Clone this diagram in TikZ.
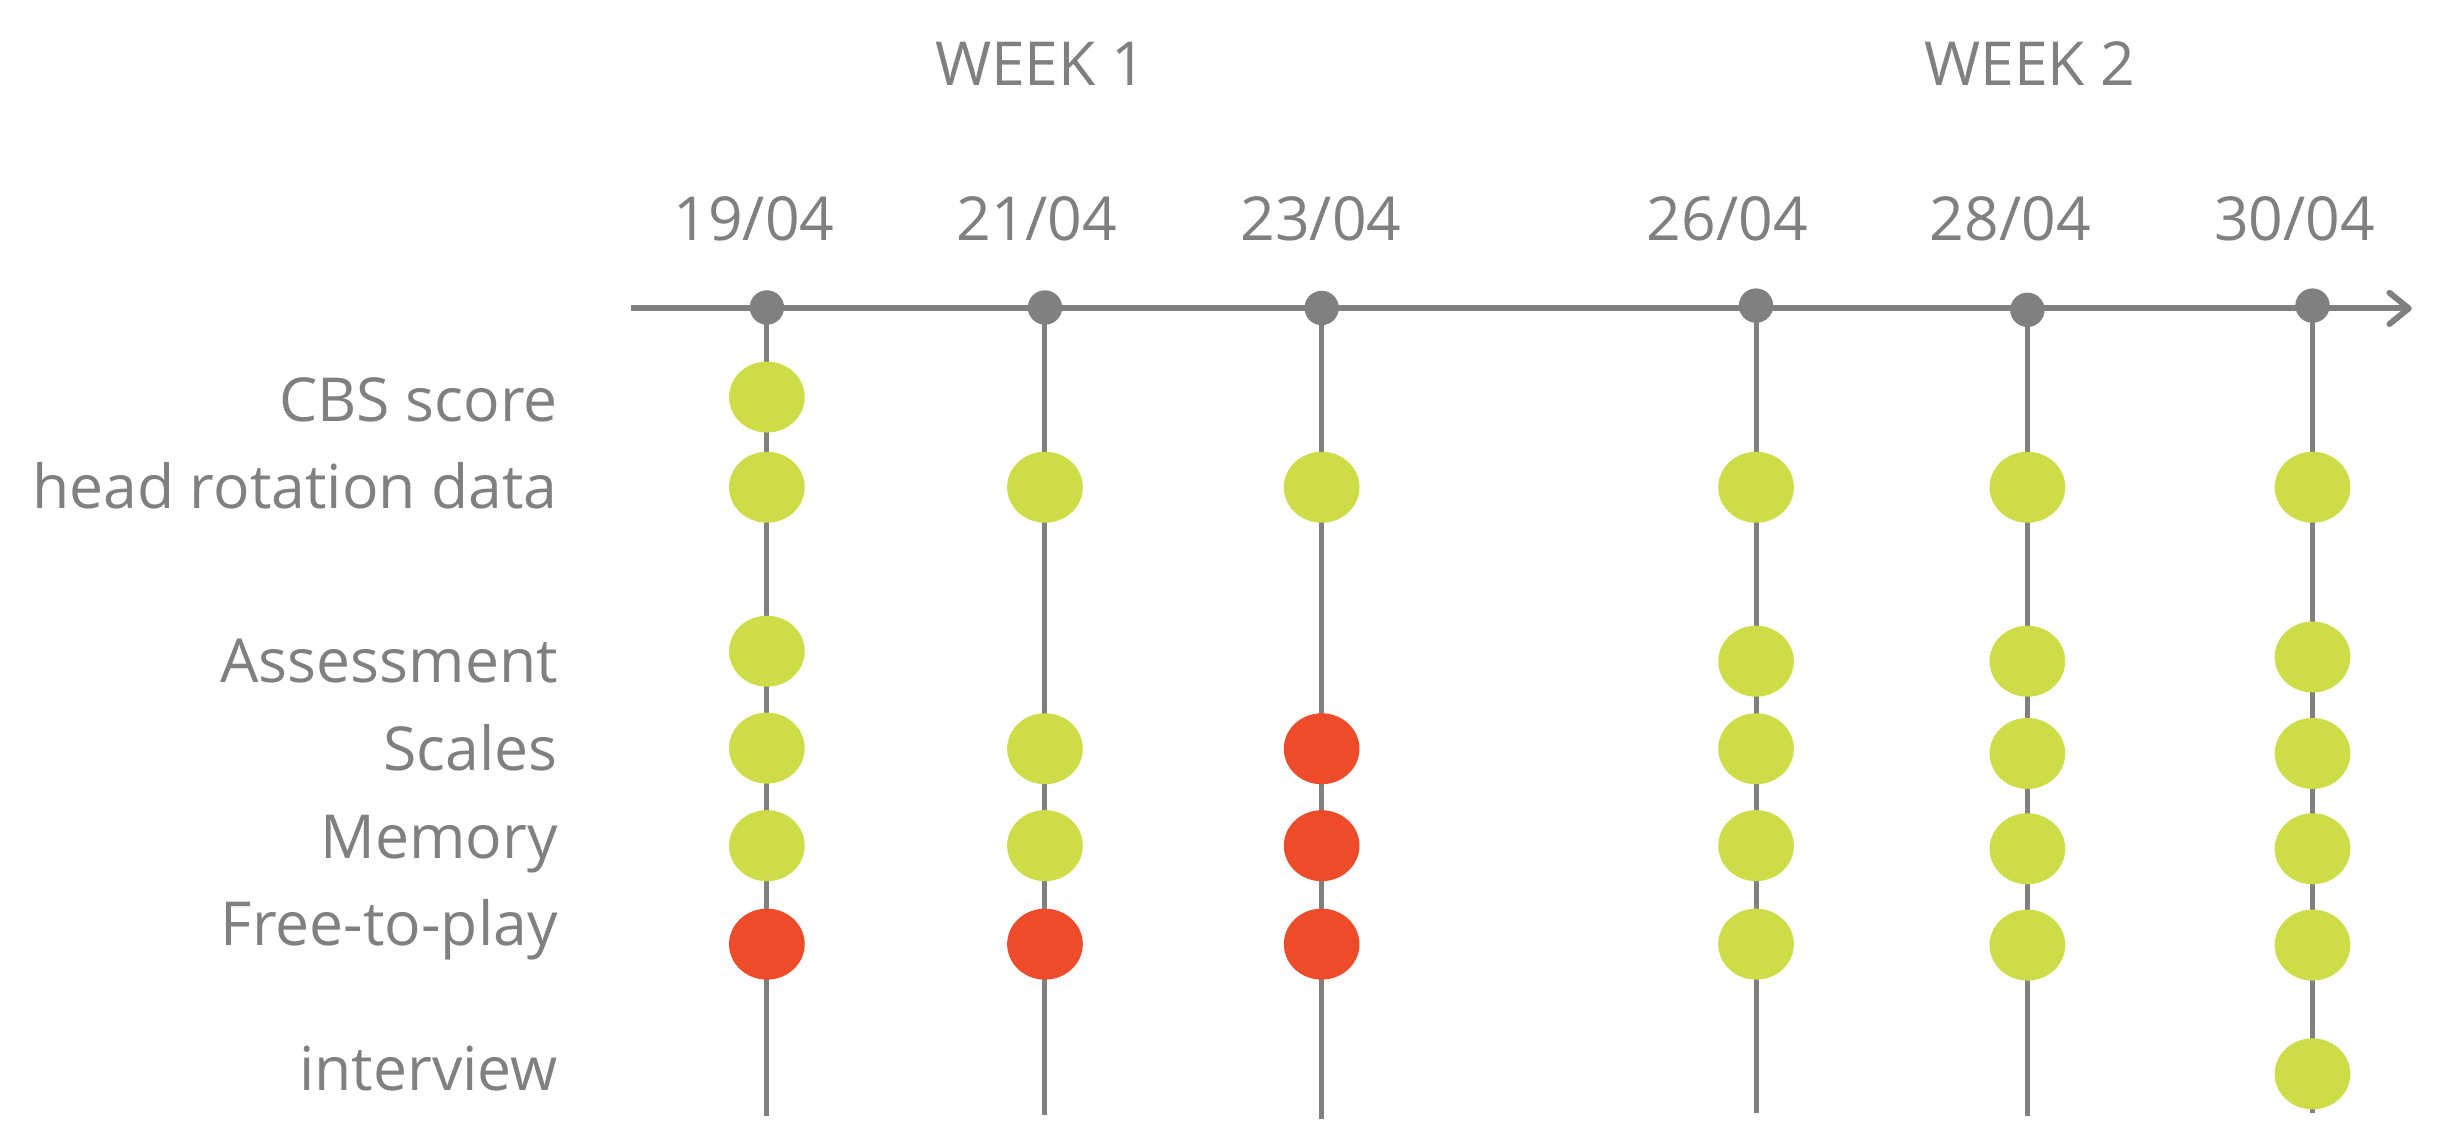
\documentclass[tikz,border=0pt]{standalone}
\usepackage{fontspec}
\setmainfont{Open Sans}
\usetikzlibrary{shapes.geometric}
\definecolor{tlgray}{HTML}{808080}
\definecolor{okgreen}{HTML}{CDDC47}
\definecolor{badred}{HTML}{EE4B2B}
\pgfdeclarelayer{bg}
\pgfsetlayers{bg,main}
\begin{document}
\begin{tikzpicture}[x=1pt,y=-1pt,
  txt/.style={text=tlgray, font=\fontsize{38.8}{47}\selectfont, inner sep=0pt},
  lbl/.style={txt, anchor=base east},
  datelbl/.style={txt, anchor=base},
  axisdot/.style={circle, fill=tlgray, minimum size=22pt, inner sep=0pt},
  ok/.style={ellipse, fill=okgreen, minimum width=48.4pt, minimum height=45.4pt, inner sep=0pt},
  bad/.style={ok, fill=badred},
  axisline/.style={draw=tlgray, line width=3.8pt},
  vline/.style={draw=tlgray, line width=3.2pt},
]
\useasboundingbox (0,0) rectangle (1568,729);

% week headings
\node[datelbl] (w1) at (665.8,54.4) {WEEK 1};
\node[datelbl] (w2) at (1298.5,54.4) {WEEK 2};

% dates
\node[datelbl] (t1) at (482.3,154) {19/04};
\node[datelbl] (t2) at (663.3,154) {21/04};
\node[datelbl] (t3) at (845,154) {23/04};
\node[datelbl] (t4) at (1105,154) {26/04};
\node[datelbl] (t5) at (1286,154) {28/04};
\node[datelbl] (t6) at (1468,154) {30/04};

% row labels
\node[lbl] (l1) at (357,269.8) {CBS score};
\node[lbl] (l2) at (357,325.6) {head rotation data};
\node[lbl] (l3) at (357,436.7) {Assessment};
\node[lbl] (l4) at (357,493) {Scales};
\node[lbl] (l5) at (357,549) {Memory};
\node[lbl] (l6) at (357,604.6) {Free-to-play};
\node[lbl] (l7) at (357,697.8) {interview};

% axis
\coordinate (axS) at (403.5,197.3);
\coordinate (axE) at (1541,197.3);
\node[axisdot] (a1) at (490.6,196.7) {};
\node[axisdot] (a2) at (668.5,196.7) {};
\node[axisdot] (a3) at (845.5,197) {};
\node[axisdot] (a4) at (1123.4,195.5) {};
\node[axisdot] (a5) at (1297,198.2) {};
\node[axisdot] (a6) at (1479.4,195.5) {};

% line ends
\coordinate (b1) at (490.6,714);
\coordinate (b2) at (668.5,713);
\coordinate (b3) at (845.5,716);
\coordinate (b4) at (1123.4,712);
\coordinate (b5) at (1297,714);
\coordinate (b6) at (1479.4,712);

\begin{pgfonlayer}{bg}
  \draw[axisline] (axS) -- (axE);
  \draw[axisline, line cap=round, line join=round] (axE) ++(-12.4,-10) -- (axE) -- ++(-12.4,10);
  \draw[vline] (a1.center) -- (b1);
  \draw[vline] (a2.center) -- (b2);
  \draw[vline] (a3.center) -- (b3);
  \draw[vline] (a4.center) -- (b4);
  \draw[vline] (a5.center) -- (b5);
  \draw[vline] (a6.center) -- (b6);
\end{pgfonlayer}

% 19/04
\node[ok]  (p11) at (490.6,254) {};
\node[ok]  (p12) at (490.6,311.7) {};
\node[ok]  (p13) at (490.6,416.6) {};
\node[ok]  (p14) at (490.6,478.6) {};
\node[ok]  (p15) at (490.6,541) {};
\node[bad] (p16) at (490.6,604) {};
% 21/04
\node[ok]  (p22) at (668.5,311.7) {};
\node[ok]  (p24) at (668.5,479) {};
\node[ok]  (p25) at (668.5,541) {};
\node[bad] (p26) at (668.5,604) {};
% 23/04
\node[ok]  (p32) at (845.5,311.7) {};
\node[bad] (p34) at (845.5,479) {};
\node[bad] (p35) at (845.5,541) {};
\node[bad] (p36) at (845.5,604) {};
% 26/04
\node[ok]  (p42) at (1123.4,311.7) {};
\node[ok]  (p43) at (1123.4,423) {};
\node[ok]  (p44) at (1123.4,479) {};
\node[ok]  (p45) at (1123.4,541) {};
\node[ok]  (p46) at (1123.4,604) {};
% 28/04
\node[ok]  (p52) at (1297,311.7) {};
\node[ok]  (p53) at (1297,423) {};
\node[ok]  (p54) at (1297,482) {};
\node[ok]  (p55) at (1297,543) {};
\node[ok]  (p56) at (1297,604.6) {};
% 30/04
\node[ok]  (p62) at (1479.4,311.7) {};
\node[ok]  (p63) at (1479.4,420.3) {};
\node[ok]  (p64) at (1479.4,482) {};
\node[ok]  (p65) at (1479.4,543) {};
\node[ok]  (p66) at (1479.4,604.6) {};
\node[ok]  (p67) at (1479.4,687) {};
\end{tikzpicture}
\end{document}
